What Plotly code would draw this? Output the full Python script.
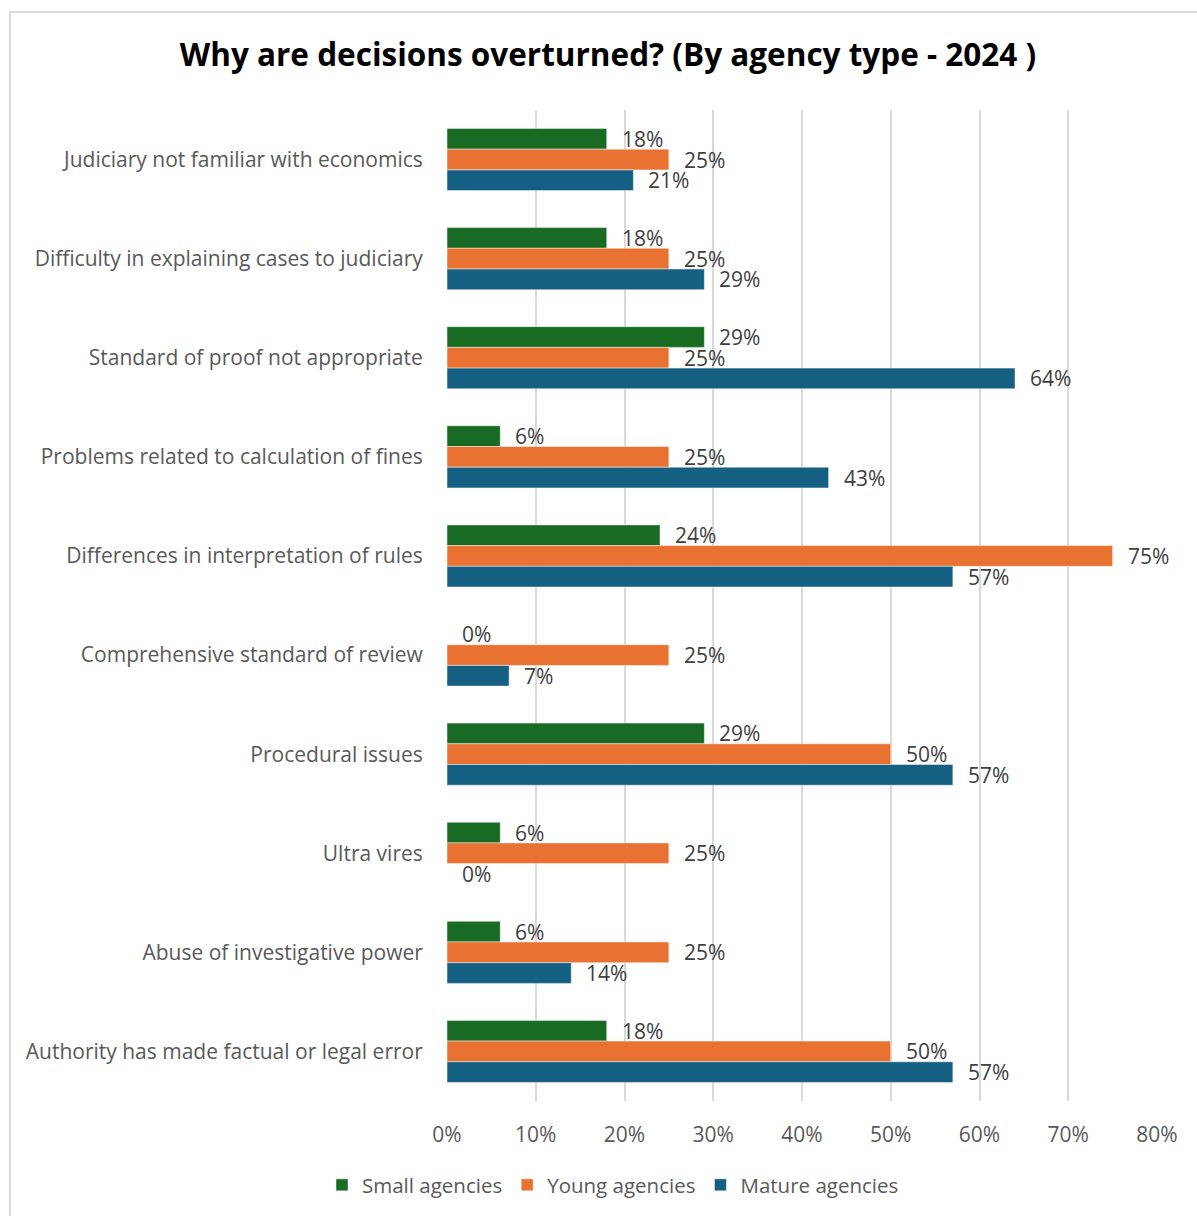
import plotly.graph_objects as go

# Reasons why decisions are overturned, by agency type (2024), in percent
categories = [
    "Judiciary not familiar with economics",
    "Difficulty in explaining cases to judiciary",
    "Standard of proof not appropriate",
    "Problems related to calculation of fines",
    "Differences in interpretation of rules",
    "Comprehensive standard of review",
    "Procedural issues",
    "Ultra vires",
    "Abuse of investigative power",
    "Authority has made factual or legal error",
]
small_agencies = [18, 18, 29, 6, 24, 0, 29, 6, 6, 18]
young_agencies = [25, 25, 25, 25, 75, 25, 50, 25, 25, 50]
mature_agencies = [21, 29, 64, 43, 57, 7, 57, 0, 14, 57]

series_names = ["Small agencies", "Young agencies", "Mature agencies"]
series_values = [small_agencies, young_agencies, mature_agencies]
series_colors = ["#196B24", "#E97132", "#156082"]

x_ticks = [0, 10, 20, 30, 40, 50, 60, 70, 80]

FONT = "Open Sans"
W, H = 1197, 1216
L, R, T, B = 447, 40, 110, 115
plot_w = W - L - R
plot_h = H - T - B

fig = go.Figure()
for name, vals, color in zip(series_names, series_values, series_colors):
    fig.add_trace(go.Bar(
        y=categories, x=vals, name=name, orientation="h",
        marker=dict(color=color, line=dict(color="rgba(255,255,255,0.6)", width=0.8)),
        hoverinfo="x+y",
    ))

# value labels beside each bar, offset by one bar thickness per series
cat_px = plot_h / len(categories)
bargap = 0.373
bar_px = cat_px * (1 - bargap) / 3
annotations = []
for i, vals in enumerate(series_values):
    shift = (1 - i) * bar_px
    for cat, v in zip(categories, vals):
        annotations.append(dict(
            x=v, y=cat, xref="x", yref="y", text=f"{v}%", showarrow=False,
            xanchor="left", yanchor="middle", xshift=13, yshift=shift,
            font=dict(family=FONT, size=21, color="#404040"),
        ))

fig.update_layout(
    width=W, height=H,
    margin=dict(l=L, r=R, t=T, b=B),
    paper_bgcolor="white", plot_bgcolor="white",
    barmode="group", bargap=bargap, bargroupgap=0,
    title=dict(
        text="<b>Why are decisions overturned? (By agency type - 2024 )</b>",
        x=608 / W, xref="container", xanchor="center",
        y=1 - 55 / H, yref="container", yanchor="middle",
        font=dict(family=FONT, size=31.5, color="#000000"),
    ),
    legend=dict(
        orientation="h", x=613 / W, xref="container", xanchor="center",
        y=1 - 1185 / H, yref="container", yanchor="middle",
        font=dict(family=FONT, size=20.5, color="#595959"),
        traceorder="normal", itemwidth=30,
    ),
    xaxis=dict(
        range=[0, 80], tickvals=x_ticks, ticktext=[f"{t}%" for t in x_ticks],
        showgrid=True, gridcolor="#D9D9D9", gridwidth=2,
        zeroline=False, showline=False,
        ticks="outside", ticklen=15, tickcolor="rgba(0,0,0,0)",
        tickfont=dict(family=FONT, size=21, color="#595959"),
        fixedrange=True,
    ),
    yaxis=dict(
        autorange="reversed", showgrid=False, zeroline=False, showline=False,
        ticks="outside", ticklen=19, tickcolor="rgba(0,0,0,0)",
        tickfont=dict(family=FONT, size=21, color="#595959"),
        fixedrange=True,
    ),
    annotations=annotations,
    shapes=[dict(
        type="rect", xref="paper", yref="paper",
        x0=(10 - L) / plot_w, x1=(W + 20 - L) / plot_w,
        y0=-(H + 20 - (H - B)) / plot_h, y1=1 + (T - 12) / plot_h,
        line=dict(color="#D9D9D9", width=2), fillcolor="rgba(0,0,0,0)",
        layer="below",
    )],
)

fig.write_html("out.html")
